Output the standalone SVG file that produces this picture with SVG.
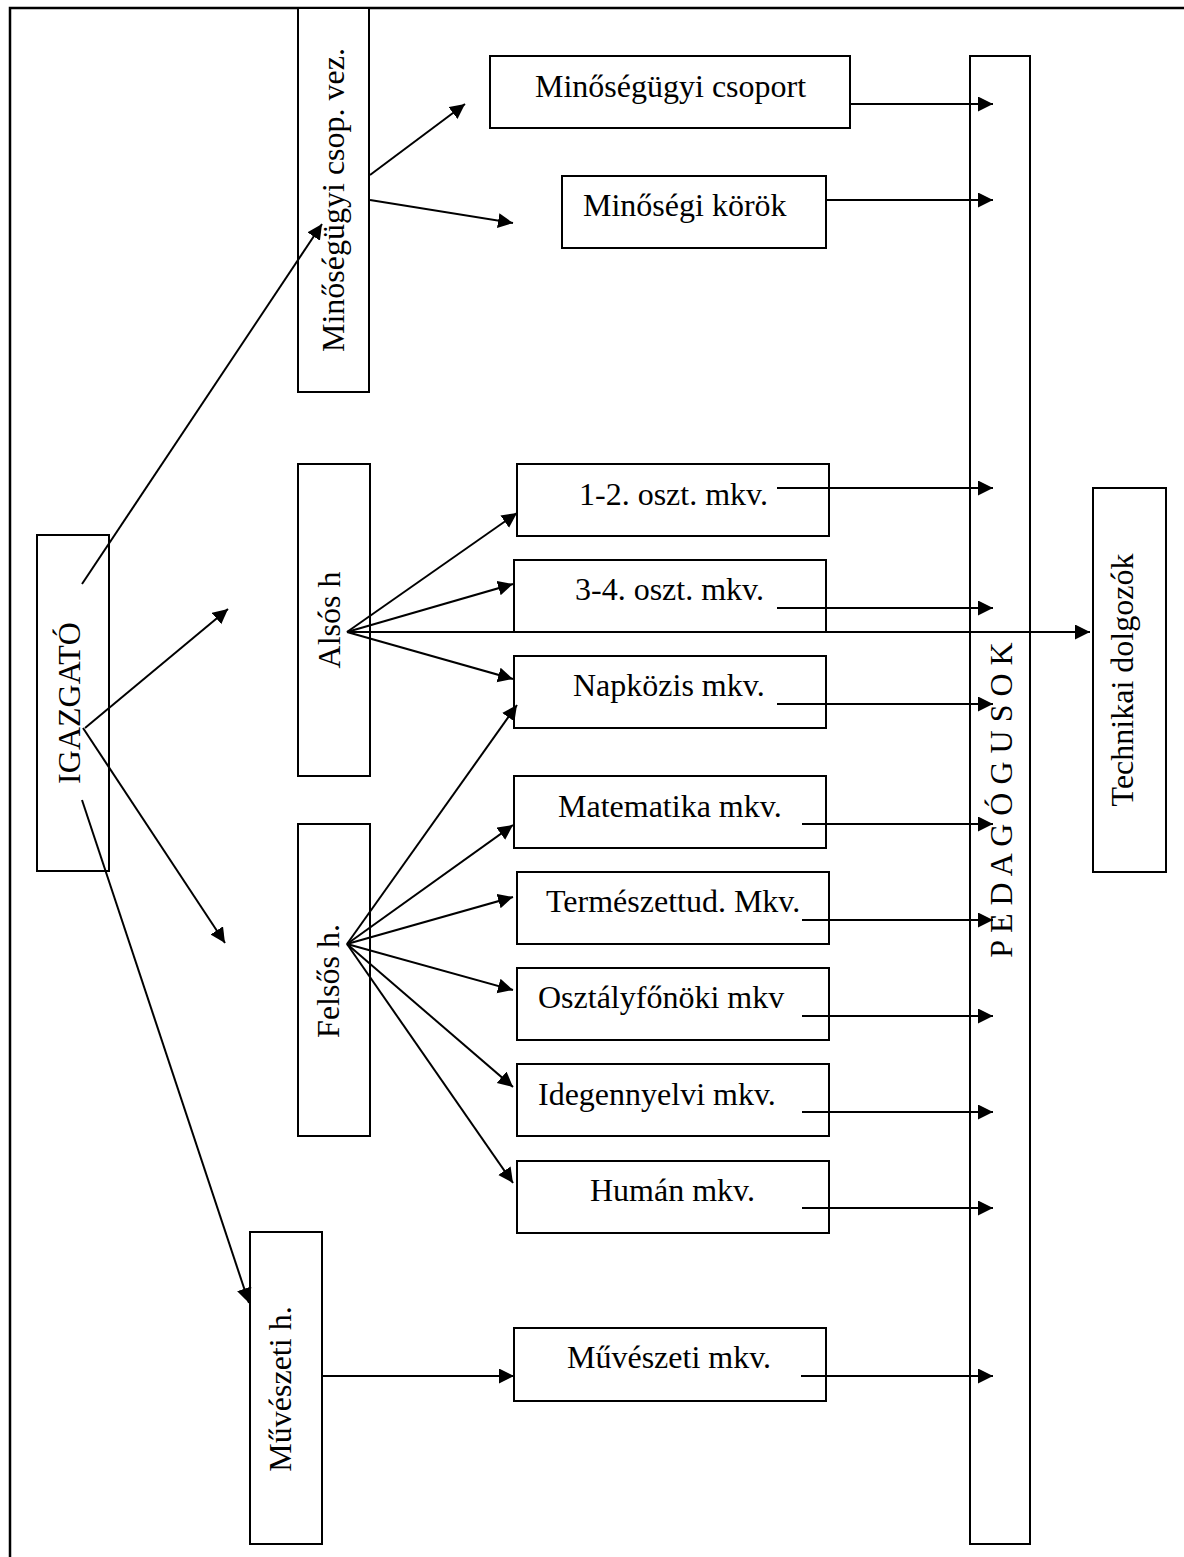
<svg xmlns="http://www.w3.org/2000/svg" width="1184" height="1557" viewBox="0 0 1184 1557">
<style>
.box{fill:#fff;stroke:#000;stroke-width:2}
.t{font-family:"Liberation Serif","Times New Roman",serif;font-size:32px;fill:#000}
.c{fill:none;stroke:#000;stroke-width:2}
.frame{fill:none;stroke:#000;stroke-width:2.5}
</style>
<defs>
<marker id="ah" markerUnits="userSpaceOnUse" markerWidth="16" markerHeight="16" refX="15" refY="7.5" orient="auto">
<path d="M0,0 L15,7.5 L0,15 z" fill="#000"/>
</marker>
</defs>
<rect width="1184" height="1557" fill="#fff"/>
<path class="frame" d="M10,1557 L10,8 L1184,8"/>

<g id="pedagogusok"><rect class="box" x="970" y="56" width="60" height="1488"/>
<text class="t" transform="translate(1012,800) rotate(-90)" text-anchor="middle">P E D A G Ó G U S O K</text></g>

<g id="minosegugyi-csop-vez"><rect class="box" x="298" y="8" width="71" height="384"/>
<text class="t" transform="translate(344,200) rotate(-90)" text-anchor="middle">Minőségügyi csop. vez.</text></g>

<g id="minosegugyi-csoport"><rect class="box" x="490" y="56" width="360" height="72"/>
<text class="t" x="535" y="97">Minőségügyi csoport</text></g>

<g id="minosegi-korok"><rect class="box" x="562" y="176" width="264" height="72"/>
<text class="t" x="583" y="216">Minőségi körök</text></g>

<g id="igazgato"><rect class="box" x="37" y="535" width="72" height="336"/>
<text class="t" transform="translate(80,703) rotate(-90)" text-anchor="middle">IGAZGATÓ</text></g>

<g id="also-h"><rect class="box" x="298" y="464" width="72" height="312"/>
<text class="t" transform="translate(340,620) rotate(-90)" text-anchor="middle">Alsós h</text></g>

<g id="felsos-h"><rect class="box" x="298" y="824" width="72" height="312"/>
<text class="t" transform="translate(339,981) rotate(-90)" text-anchor="middle">Felsős h.</text></g>

<g id="muveszeti-h"><rect class="box" x="250" y="1232" width="72" height="312"/>
<text class="t" transform="translate(291,1389) rotate(-90)" text-anchor="middle">Művészeti h.</text></g>

<g id="technikai"><rect class="box" x="1093" y="488" width="73" height="384"/>
<text class="t" transform="translate(1133,680) rotate(-90)" text-anchor="middle">Technikai dolgozók</text></g>

<g id="osz12"><rect class="box" x="517" y="464" width="312" height="72"/>
<text class="t" x="579" y="505">1-2. oszt. mkv.</text></g>

<g id="osz34"><rect class="box" x="514" y="560" width="312" height="72"/>
<text class="t" x="575" y="600">3-4. oszt. mkv.</text></g>

<g id="napkozis"><rect class="box" x="514" y="656" width="312" height="72"/>
<text class="t" x="573" y="696">Napközis mkv.</text></g>

<g id="matematika"><rect class="box" x="514" y="776" width="312" height="72"/>
<text class="t" x="558" y="817">Matematika mkv.</text></g>

<g id="termeszettud"><rect class="box" x="517" y="872" width="312" height="72"/>
<text class="t" x="546" y="912">Természettud. Mkv.</text></g>

<g id="osztalyfonoki"><rect class="box" x="517" y="968" width="312" height="72"/>
<text class="t" x="538" y="1008">Osztályfőnöki mkv</text></g>

<g id="idegennyelvi"><rect class="box" x="517" y="1064" width="312" height="72"/>
<text class="t" x="538" y="1105">Idegennyelvi mkv.</text></g>

<g id="human"><rect class="box" x="517" y="1161" width="312" height="72"/>
<text class="t" x="590" y="1201">Humán mkv.</text></g>

<g id="muveszeti-mkv"><rect class="box" x="514" y="1328" width="312" height="73"/>
<text class="t" x="567" y="1368">Művészeti mkv.</text></g>

<g id="connectors" class="c" marker-end="url(#ah)">
<line x1="82" y1="584" x2="322" y2="224"/>
<line x1="85" y1="728" x2="228" y2="609"/>
<line x1="83" y1="728" x2="225" y2="943"/>
<line x1="82" y1="800" x2="249" y2="1303"/>
<line x1="370" y1="175" x2="465" y2="104"/>
<line x1="370" y1="200" x2="513" y2="223"/>
<line x1="347" y1="632" x2="517" y2="513"/>
<line x1="347" y1="632" x2="513" y2="584"/>
<line x1="347" y1="632" x2="1090" y2="632"/>
<line x1="347" y1="632" x2="513" y2="679"/>
<line x1="347" y1="944" x2="517" y2="705"/>
<line x1="347" y1="944" x2="513" y2="825"/>
<line x1="347" y1="944" x2="513" y2="897"/>
<line x1="347" y1="944" x2="513" y2="990"/>
<line x1="347" y1="944" x2="513" y2="1087"/>
<line x1="347" y1="944" x2="513" y2="1183"/>
<line x1="322" y1="1376" x2="514" y2="1376"/>
<line x1="850" y1="104" x2="993" y2="104"/>
<line x1="826" y1="200" x2="993" y2="200"/>
<line x1="777" y1="488" x2="993" y2="488"/>
<line x1="777" y1="608" x2="993" y2="608"/>
<line x1="777" y1="704" x2="993" y2="704"/>
<line x1="802" y1="824" x2="993" y2="824"/>
<line x1="802" y1="920" x2="993" y2="920"/>
<line x1="802" y1="1016" x2="993" y2="1016"/>
<line x1="802" y1="1112" x2="993" y2="1112"/>
<line x1="802" y1="1208" x2="993" y2="1208"/>
<line x1="801" y1="1376" x2="993" y2="1376"/>
</g>
</svg>
